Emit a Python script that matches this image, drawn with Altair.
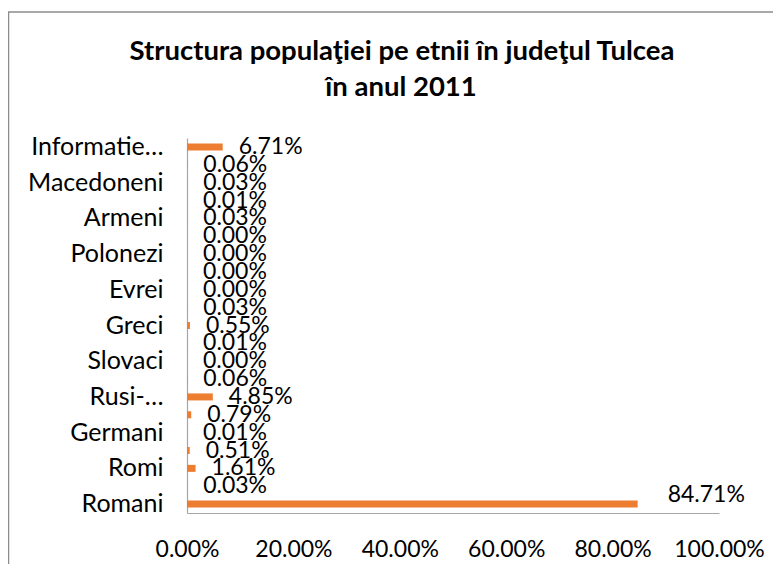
import json
import altair as alt
import pandas as pd

title_lines = ["Structura populaţiei pe etnii în judeţul Tulcea", "în anul 2011"]

# categories from top to bottom, as in the chart
categories = [
    "Informatie nedisponibila", "Alta etnie", "Macedoneni", "Ceangai", "Armeni",
    "Chinezi", "Polonezi", "Cehi", "Evrei", "Italieni", "Greci", "Bulgari",
    "Slovaci", "Tatari", "Rusi-Lipoveni", "Turci", "Germani", "Ucraineni",
    "Romi", "Maghiari", "Romani",
]
# axis labels as displayed (every other category shown, long ones truncated)
display_labels = [
    "Informatie…", "", "Macedoneni", "", "Armeni",
    "", "Polonezi", "", "Evrei", "", "Greci", "",
    "Slovaci", "", "Rusi-…", "", "Germani", "",
    "Romi", "", "Romani",
]
# percentage values
percent_values = [
    6.71, 0.06, 0.03, 0.01, 0.03,
    0.00, 0.00, 0.00, 0.00, 0.03, 0.55, 0.01,
    0.00, 0.06, 4.85, 0.79, 0.01, 0.51,
    1.61, 0.03, 84.71,
]
x_ticks = [0, 0.2, 0.4, 0.6, 0.8, 1.0]

df = pd.DataFrame({"etnie": categories, "pct": [v / 100 for v in percent_values]})

FONT = "Lato"
ORANGE = "#ED7D31"
GRAY = "#a6a6a6"

label_expr = "{}[indexof({}, datum.value)]".format(
    json.dumps(display_labels, ensure_ascii=False), json.dumps(categories, ensure_ascii=False)
)

x_enc = alt.X(
    "pct:Q",
    scale=alt.Scale(domain=[0, 1], nice=False),
    axis=alt.Axis(
        values=x_ticks, format=".2%", grid=False, ticks=False, title=None,
        domainColor=GRAY, domainWidth=1.2, labelFont=FONT, labelFontSize=23,
        labelColor="#000000", labelPadding=25, labelFlush=False,
    ),
)
y_enc = alt.Y(
    "etnie:N",
    sort=categories,
    scale=alt.Scale(paddingInner=0, paddingOuter=0),
    axis=alt.Axis(
        grid=False, ticks=False, title=None, domainColor=GRAY, domainWidth=1.2,
        labelExpr=label_expr, labelFont=FONT, labelFontSize=25, labelColor="#000000",
        labelPadding=24, labelLimit=300, labelOverlap=False,
    ),
)

base = alt.Chart(df)

bars = base.mark_bar(size=7, color=ORANGE).encode(x=x_enc, y=y_enc)

labels = base.transform_filter("datum.pct < 0.5").mark_text(
    align="left", baseline="middle", dx=16, font=FONT, fontSize=23, color="#000000"
).encode(x="pct:Q", y=alt.Y("etnie:N", sort=categories), text=alt.Text("pct:Q", format=".2%"))

big_label = base.transform_filter("datum.pct >= 0.5").mark_text(
    align="left", baseline="middle", dx=30, dy=-9, font=FONT, fontSize=23, color="#000000"
).encode(x="pct:Q", y=alt.Y("etnie:N", sort=categories), text=alt.Text("pct:Q", format=".2%"))

one = pd.DataFrame({"a": [0]})

frame = alt.Chart(one).mark_rect(
    fill=None, stroke="#8c8c8c", strokeWidth=1.5
).encode(
    x=alt.value(-178.5), x2=alt.value(900), y=alt.value(-126), y2=alt.value(700)
)

title1 = alt.Chart(one).mark_text(
    font=FONT, fontSize=27.5, fontWeight="bold", color="#000000", align="center", baseline="middle"
).encode(x=alt.value(215), y=alt.value(-86), text=alt.value(title_lines[0]))
title2 = alt.Chart(one).mark_text(
    font=FONT, fontSize=27.5, fontWeight="bold", color="#000000", align="center", baseline="middle"
).encode(x=alt.value(214), y=alt.value(-50), text=alt.value(title_lines[1]))

chart = alt.layer(frame, title1, title2, bars, labels, big_label).properties(
    width=532,
    height=375,
    background="white",
    autosize=alt.AutoSizeParams(type="none"),
    padding={"left": 179, "top": 130, "right": 54, "bottom": 51},
).configure_view(strokeWidth=0, stroke="transparent")

chart.save("out.html", embed_options={"renderer": "svg", "actions": False})
